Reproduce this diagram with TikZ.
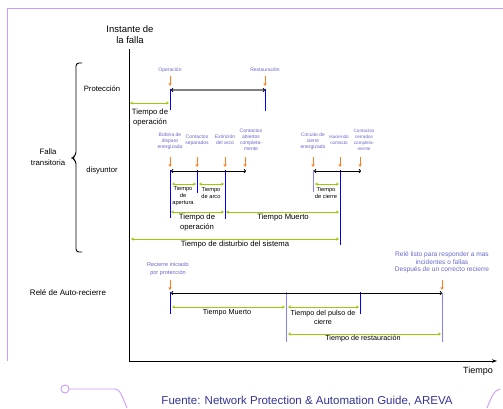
\documentclass[tikz,border=0pt]{standalone}
\usepackage{fontspec}
\setmainfont{Liberation Sans}
\usetikzlibrary{arrows.meta}
\definecolor{lblc}{HTML}{6666CC}
\definecolor{orng}{HTML}{FF7A1A}
\definecolor{grn}{HTML}{99CC00}
\definecolor{lblue}{HTML}{8080FF}
\definecolor{frame}{HTML}{CC99FF}
\definecolor{foot}{HTML}{333399}
\tikzset{
  lbl/.style={font=\fontsize{5}{6}\selectfont, text=lblc, align=center, inner sep=0pt},
  txt/.style={font=\fontsize{7.7}{9.5}\selectfont, align=center, inner sep=0pt},
  sml/.style={font=\fontsize{5.7}{7}\selectfont, align=center, inner sep=0pt},
  rtxt/.style={font=\fontsize{7.2}{9}\selectfont, align=center, inner sep=0pt},
  oarr/.style={draw=orng, line width=0.8pt, -{Stealth[length=3pt,width=3pt]}},
  garr/.style={draw=grn, line width=1pt, {Stealth[length=3pt,width=3.2pt]}-{Stealth[length=3pt,width=3.2pt]}},
  barr/.style={draw=black, line width=0.9pt, {To[length=2.2pt,width=4pt]}-{To[length=2.2pt,width=4pt]}},
  gyarr/.style={draw=gray, line width=1.6pt, {To[length=2.2pt,width=4pt,black,line width=0.9pt]}-{To[length=2.2pt,width=4pt,black,line width=0.9pt]}},
  bl/.style={draw=blue, line width=1pt},
  lbl2/.style={draw=lblue, line width=1pt},
  fr/.style={draw=frame, line width=0.9pt}
}
\begin{document}
\begin{tikzpicture}[x=1pt,y=-1pt]
\useasboundingbox (0,0) rectangle (503,408);
% frame decoration
\coordinate (fA) at (7.5,361); \coordinate (fB) at (7.5,8); \coordinate (fC) at (503,8);
\draw[fr] (fA) -- (fB) -- (fC);
\node[fr, circle, minimum size=8pt, inner sep=0pt] (circ) at (65,389) {};
\coordinate (cL1) at (115,389); \coordinate (cL2) at (127,408);
\draw[fr] (circ.east) -- (cL1) .. controls (120,389) and (122,396) .. (cL2);
\coordinate (cR1) at (487,408); \coordinate (cR2) at (500,389);
\draw[fr] (cR1) .. controls (491,398) and (494,390) .. (cR2);
% axes
\coordinate (ax0) at (129,361); \coordinate (axT) at (129,49); \coordinate (axR) at (497,361);
\draw[line width=0.9pt] (axT) -- (ax0);
\draw[line width=0.9pt, -{Stealth[length=5pt,width=3.5pt]}] (ax0) -- (axR);
\node[font=\fontsize{9}{11}\selectfont, inner sep=0pt] (tiempo) at (478,371) {Tiempo};
\node[font=\fontsize{9.5}{11}\selectfont, align=center, inner sep=0pt] (inst) at (130,34.5) {Instante de\\la falla};
% left labels
\node[txt] (prot) at (102,89) {Protección};
\node[txt] (disy) at (102,171) {disyuntor};
\node[txt, font=\fontsize{7.8}{11}\selectfont] (falla) at (48,157.5) {Falla\\transitoria};
\node[txt, font=\fontsize{8}{10}\selectfont] (rele) at (68,293) {Relé de Auto-recierre};
% brace
\coordinate (br1) at (82,63); \coordinate (br2) at (82,252); \coordinate (brt) at (72,158);
\draw[line width=0.9pt, rounded corners=3pt] (br1) -- (76,63) -- (76,155) -- (brt) -- (76,161) -- (76,252) -- (br2);
% ---------- Proteccion
\node[lbl] (lop) at (170,70) {Operación};
\node[lbl] (lrest) at (265,70) {Restauración};
\coordinate (po1) at (170,76); \coordinate (po2) at (170,86);
\coordinate (pr1) at (265,76); \coordinate (pr2) at (265,86);
\draw[oarr] (po1) -- (po2); \draw[oarr] (pr1) -- (pr2);
\coordinate (pb1) at (170,89); \coordinate (pb2) at (170,110);
\coordinate (pb3) at (265,89); \coordinate (pb4) at (265,111);
\draw[bl] (pb1) -- (pb2); \draw[bl] (pb3) -- (pb4);
\coordinate (pg1) at (171,90); \coordinate (pg2) at (265,90);
\draw[gyarr] (pg1) -- (pg2);
\coordinate (pt1) at (130,103); \coordinate (pt2) at (169,103);
\draw[garr] (pt1) -- (pt2);
\node[txt] (top) at (150,117.5) {Tiempo de\\operación};
% ---------- Disyuntor apertura
\node[lbl] (l1) at (170,141) {Bobina de\\disparo\\energizada};
\node[lbl] (l2) at (197,140) {Contactos\\separados};
\node[lbl] (l3) at (225,140) {Extinción\\del arco};
\node[lbl] (l4) at (251,140) {Contactos\\abiertos\\completa-\\mente};
\foreach \n/\x in {a/170,b/197,c/225,d/245}{
  \coordinate (o\n1) at (\x,157); \coordinate (o\n2) at (\x,167);
  \draw[oarr] (o\n1) -- (o\n2);
}
\coordinate (da1) at (171,171); \coordinate (da2) at (246,171);
\coordinate (v1a) at (170,170); \coordinate (v1b) at (170,218);
\coordinate (v2a) at (197,170); \coordinate (v2b) at (197,193);
\coordinate (v3a) at (225,170); \coordinate (v3b) at (225,219);
\draw[bl] (v1a) -- (v1b); \draw[bl] (v2a) -- (v2b); \draw[bl] (v3a) -- (v3b);
\draw[barr] (da1) -- (da2);
\coordinate (g1a) at (172,184); \coordinate (g1b) at (196,184);
\coordinate (g2a) at (199,184); \coordinate (g2b) at (224,184);
\draw[garr] (g1a) -- (g1b); \draw[garr] (g2a) -- (g2b);
\node[sml] (tap) at (183,196) {Tiempo\\de\\apertura};
\node[sml] (tarc) at (211,192.5) {Tiempo\\de arco};
\coordinate (g3a) at (171,212); \coordinate (g3b) at (224,212);
\coordinate (g4a) at (226,212); \coordinate (g4b) at (339,212);
\draw[garr] (g3a) -- (g3b); \draw[garr] (g4a) -- (g4b);
\node[txt] (top2) at (197,222.5) {Tiempo de\\operación};
\node[txt] (tmu) at (283,218) {Tiempo Muerto};
\coordinate (g5a) at (131,239); \coordinate (g5b) at (339,239);
\draw[garr] (g5a) -- (g5b);
\node[txt] (tdis) at (235,244.5) {Tiempo de disturbio del sistema};
% ---------- Disyuntor cierre
\node[lbl] (l5) at (313,141) {Circuito de\\cierre\\energizado};
\node[lbl, font=\fontsize{4.6}{6}\selectfont] (l6) at (339,140) {Haciendo\\contacto};
\node[lbl, font=\fontsize{4.6}{6}\selectfont] (l7) at (364,140) {Contactos\\cerrados\\completa-\\mente};
\foreach \n/\x in {e/313,f/340,g/360}{
  \coordinate (o\n1) at (\x,157); \coordinate (o\n2) at (\x,167);
  \draw[oarr] (o\n1) -- (o\n2);
}
\coordinate (v4a) at (313,170); \coordinate (v4b) at (313,192);
\coordinate (v5a) at (340,170); \coordinate (v5b) at (340,245);
\draw[lbl2] (v4a) -- (v4b); \draw[bl] (v5a) -- (v5b);
\coordinate (dc1) at (314,171); \coordinate (dc2) at (361,171);
\draw[barr] (dc1) -- (dc2);
\coordinate (g6a) at (315,184); \coordinate (g6b) at (339,184);
\draw[garr] (g6a) -- (g6b);
\node[sml] (tci) at (326,192.5) {Tiempo\\de cierre};
% ---------- Rele
\node[lbl, font=\fontsize{5.6}{8}\selectfont] (lrec) at (168,269.5) {Recierre iniciado\\por protección};
\node[lbl, font=\fontsize{6.6}{7.6}\selectfont] (llis) at (442,262.5) {Relé listo para responder a mas\\incidentes o fallas\\Después de un correcto recierre};
\coordinate (or1) at (170,280); \coordinate (or2) at (170,290);
\coordinate (os1) at (442,280); \coordinate (os2) at (442,290);
\draw[oarr] (or1) -- (or2); \draw[oarr] (os1) -- (os2);
\coordinate (r1a) at (170,292); \coordinate (r1b) at (170,314);
\coordinate (r2a) at (286,292); \coordinate (r2b) at (286,342);
\coordinate (r3a) at (360,292); \coordinate (r3b) at (360,314);
\coordinate (r4a) at (442,293); \coordinate (r4b) at (442,342);
\draw[bl] (r1a) -- (r1b); \draw[lbl2] (r2a) -- (r2b); \draw[bl] (r3a) -- (r3b); \draw[lbl2] (r4a) -- (r4b);
\coordinate (ra1) at (171,293); \coordinate (ra2) at (442,293);
\draw[barr] (ra1) -- (ra2);
\coordinate (g7a) at (172,307); \coordinate (g7b) at (285,307);
\coordinate (g8a) at (288,307); \coordinate (g8b) at (359,307);
\coordinate (g9a) at (288,334); \coordinate (g9b) at (441,334);
\draw[garr] (g7a) -- (g7b); \draw[garr] (g8a) -- (g8b); \draw[garr] (g9a) -- (g9b);
\node[rtxt] (tmu2) at (227,313) {Tiempo Muerto};
\node[rtxt] (tpul) at (323,317.5) {Tiempo del pulso de\\cierre};
\node[rtxt] (tres) at (363,339) {Tiempo de restauración};
% footer
\node[font=\fontsize{11.5}{13}\selectfont, text=foot, inner sep=0pt] (fuente) at (307,401) {Fuente: Network Protection \& Automation Guide, AREVA};
\end{tikzpicture}
\end{document}
